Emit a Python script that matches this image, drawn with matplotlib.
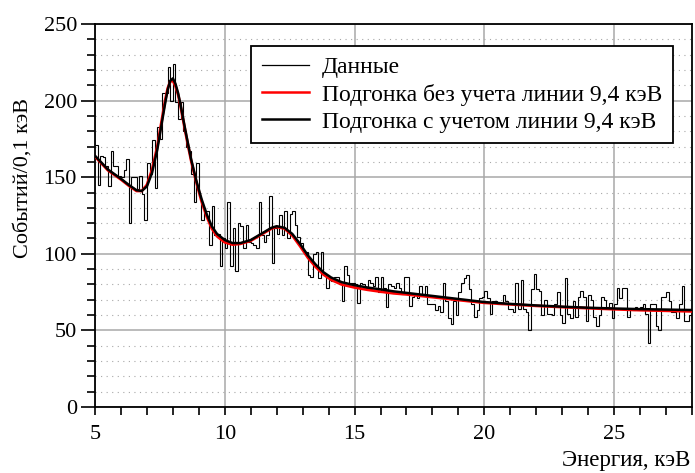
import numpy as np
import matplotlib
matplotlib.use("Agg")
import matplotlib.pyplot as plt
from matplotlib.ticker import MultipleLocator
from matplotlib.lines import Line2D

plt.rcParams['font.family'] = ['Liberation Serif', 'DejaVu Serif']

# ---- data ----
bin_start = 5.0
bin_width = 0.1
counts = [
    171, 145, 164, 163, 157, 144, 167, 157, 157, 151,
    150, 155, 162, 120, 150, 150, 142, 151, 139, 122,
    159, 152, 174, 143, 183, 175, 205, 205, 222, 200,
    224, 199, 188, 199, 180, 170, 167, 152, 134, 159,
    138, 122, 128, 128, 106, 131, 112, 113, 92, 110,
    104, 134, 92, 117, 89, 120, 118, 104, 119, 108,
    107, 106, 104, 134, 112, 108, 112, 138, 94, 117,
    113, 125, 112, 128, 110, 126, 128, 119, 111, 107,
    102, 101, 86, 85, 100, 101, 84, 101, 86, 78,
    83, 82, 85, 85, 80, 69, 92, 86, 81, 81,
    80, 68, 81, 80, 78, 83, 81, 79, 85, 75,
    85, 78, 65, 80, 79, 78, 81, 78, 74, 85,
    85, 66, 72, 74, 71, 79, 74, 79, 67, 67,
    67, 63, 66, 62, 81, 69, 58, 54, 69, 60,
    75, 81, 84, 86, 77, 67, 59, 63, 71, 72,
    76, 71, 61, 69, 69, 67, 67, 73, 69, 64,
    64, 62, 81, 64, 83, 64, 62, 50, 77, 87,
    77, 76, 60, 70, 61, 61, 60, 67, 75, 60,
    55, 84, 61, 58, 69, 59, 72, 76, 72, 56,
    73, 70, 59, 53, 60, 72, 70, 65, 68, 58,
    67, 78, 71, 78, 78, 59, 64, 63, 65, 64,
    65, 67, 61, 42, 67, 67, 53, 50, 72, 72,
    75, 69, 62, 62, 58, 67, 79, 56, 56, 60,
]

fit_x = [5.0, 5.5, 6.0, 6.3, 6.6, 6.8, 7.0, 7.2, 7.4, 7.6, 7.7, 7.8, 7.9, 8.0,
         8.1, 8.2, 8.3, 8.4, 8.5, 8.7, 8.9, 9.1, 9.3, 9.5, 9.7, 10.0, 10.3,
         10.6, 11.0, 11.4, 11.8, 12.0, 12.3, 12.6, 12.9, 13.2, 13.5, 13.8,
         14.1, 14.5, 15.0, 15.5, 16.0, 16.5, 17.0, 18.0, 19.0, 20.0, 21.0,
         22.0, 23.0, 24.0, 25.0, 26.0, 27.0, 28.0]

fit_with = [164, 155, 149, 145, 141.5, 141, 144, 153, 168, 188, 198, 207, 213,
            214.5, 211, 205, 197, 188, 179, 162, 148, 136, 126, 118, 113, 109,
            107, 107, 109, 113, 117, 118, 117, 113, 106.5, 99, 93, 88, 84.5,
            81.5, 79.5, 78, 76.8, 75.5, 74.5, 72.5, 70.5, 68.5, 67.3, 66.3,
            65.5, 64.8, 64.3, 63.9, 63.6, 63.3]

fit_without = [163.5, 154.5, 148.5, 144.5, 141, 141, 145, 155, 170, 190, 200, 208,
               212.5, 213, 209.5, 204, 196, 187, 178, 161, 147, 134.5, 124.5,
               116.5, 111.5, 107.5, 106, 106.5, 108.5, 112.5, 116.5, 117.5, 116.5,
               112, 105, 97.5, 91.5, 86.5, 83, 80, 78, 76.5, 75.3, 74.2, 73.5,
               71.7, 69.8, 68, 67, 66, 65.2, 64.5, 63.8, 63.2, 62.8, 62.4]

legend_labels = ["Данные", "Подгонка без учета линии 9,4 кэВ",
                 "Подгонка с учетом линии 9,4 кэВ"]
x_label = "Энергия, кэВ"
y_label = "Событий/0,1 кэВ"

# ---- figure ----
W, H = 695, 473
fig = plt.figure(figsize=(W / 100, H / 100), dpi=100)
ax = fig.add_axes([95 / W, 1 - 407 / H, 597 / W, 383 / H])

edges = bin_start + bin_width * np.arange(len(counts) + 1)
ax.stairs(counts, edges, baseline=None, color='black', lw=0.8, zorder=3)
ax.plot(fit_x, fit_without, color='#ff0000', lw=2.0, zorder=4,
        solid_joinstyle='round')
ax.plot(fit_x, fit_with, color='black', lw=1.8, zorder=5,
        solid_joinstyle='round')

ax.set_xlim(5, 28)
ax.set_ylim(0, 250)
ax.xaxis.set_major_locator(MultipleLocator(5))
ax.xaxis.set_minor_locator(MultipleLocator(1))
ax.yaxis.set_major_locator(MultipleLocator(50))
ax.yaxis.set_minor_locator(MultipleLocator(10))

ax.grid(which='major', color='#a8a8a8', lw=1.1, ls='-', zorder=0)
ax.yaxis.grid(which='minor', color='#a8a8a8', lw=0.8, ls=(0, (1, 4)), zorder=0)
ax.set_axisbelow(True)

for s in ax.spines.values():
    s.set_linewidth(1.3)
    s.set_color('black')

ax.tick_params(axis='both', which='both', direction='out', width=1.2,
               labelsize=16, colors='black')
ax.tick_params(axis='y', which='major', length=10, pad=3)
ax.tick_params(axis='y', which='minor', length=6)
ax.tick_params(axis='x', which='major', length=6, pad=7)
ax.tick_params(axis='x', which='minor', length=6)
ax.tick_params(top=False, right=False, which='both')

fig.text(690 / W, 1 - 471 / H, x_label, ha='right', va='bottom', fontsize=16.5)
fig.text(23 / W, 1 - 178 / H, y_label, ha='center', va='center',
         rotation=90, fontsize=16)

handles = [Line2D([], [], color='black', lw=0.9),
           Line2D([], [], color='#ff0000', lw=1.8),
           Line2D([], [], color='black', lw=1.8)]
leg = ax.legend(handles, legend_labels, loc='upper right',
                bbox_to_anchor=((673 - 95) / 597, 1 - (46 - 24) / 383),
                borderaxespad=0, fontsize=17, frameon=True, fancybox=False,
                framealpha=1, edgecolor='black', handlelength=2.0,
                handletextpad=0.55, labelspacing=0.23, borderpad=0.45)
leg.get_frame().set_linewidth(1.3)
leg.set_zorder(10)

fig.savefig('out.png', dpi=100)
